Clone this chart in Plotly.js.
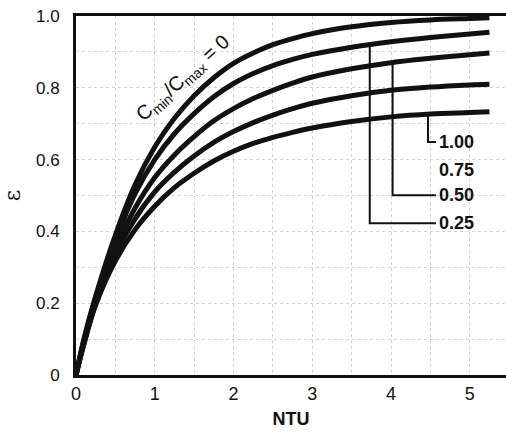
<!DOCTYPE html>
<html>
<head>
<meta charset="utf-8">
<script src="https://cdn.plot.ly/plotly-3.0.1.min.js"></script>
<style>html,body{margin:0;padding:0;background:#fff;}#chart{width:506px;height:432px;}</style>
</head>
<body>
<div id="chart"></div>
<script>
// NTU sample points
const ntu = [0, 0.1, 0.25, 0.5, 0.75, 1, 1.25, 1.5, 1.75, 2, 2.25, 2.5, 2.75, 3, 3.5, 4, 4.5, 5, 5.25];
// effectiveness, one array per Cmin/Cmax
const eps_c000 = [0, 0.10, 0.22, 0.39, 0.53, 0.635, 0.715, 0.778, 0.828, 0.868, 0.897, 0.92, 0.937, 0.951, 0.97, 0.982, 0.989, 0.993, 0.995];
const eps_c025 = [0, 0.095, 0.215, 0.375, 0.505, 0.60, 0.672, 0.728, 0.775, 0.812, 0.84, 0.862, 0.879, 0.893, 0.913, 0.928, 0.94, 0.95, 0.955];
const eps_c050 = [0, 0.09, 0.205, 0.355, 0.465, 0.55, 0.613, 0.664, 0.708, 0.742, 0.77, 0.793, 0.813, 0.83, 0.853, 0.87, 0.882, 0.892, 0.897];
const eps_c075 = [0, 0.088, 0.20, 0.335, 0.435, 0.51, 0.565, 0.61, 0.648, 0.678, 0.703, 0.724, 0.742, 0.757, 0.778, 0.793, 0.802, 0.808, 0.81];
const eps_c100 = [0, 0.085, 0.195, 0.318, 0.405, 0.47, 0.522, 0.562, 0.596, 0.623, 0.645, 0.662, 0.676, 0.688, 0.706, 0.719, 0.727, 0.731, 0.733];

const xTickVals = [0, 1, 2, 3, 4, 5];
const xTickText = ['0', '1', '2', '3', '4', '5'];
const yTickVals = [0, 0.2, 0.4, 0.6, 0.8, 1.0];
const yTickText = ['0', '0.2', '0.4', '0.6', '0.8', '1.0'];

// curve labels and leader lines
const labelText = ['1.00', '0.75', '0.50', '0.25'];
const labelY = [0.649, 0.571, 0.501, 0.423];
const labelX = 4.59;
const leaderSeries = [eps_c100, eps_c050, eps_c025];
const leaderNtu = [4.47, 4.02, 3.73];
const leaderLabel = [0, 2, 3];

function interp(xs, ys, x) {
  for (let i = 0; i < xs.length - 1; i++) {
    if (x >= xs[i] && x <= xs[i + 1]) {
      const t = (x - xs[i]) / (xs[i + 1] - xs[i]);
      return ys[i] + t * (ys[i + 1] - ys[i]);
    }
  }
  return ys[ys.length - 1];
}

const series = [eps_c000, eps_c025, eps_c050, eps_c075, eps_c100];
const traces = series.map(s => ({
  x: ntu, y: s, type: 'scatter', mode: 'lines',
  line: {color: '#111', width: 5, shape: 'spline', smoothing: 1},
  hoverinfo: 'skip', showlegend: false
}));

const shapes = [];
leaderNtu.forEach((n, i) => {
  const y0 = interp(ntu, leaderSeries[i], n);
  const yl = labelY[leaderLabel[i]];
  shapes.push({type: 'path', xref: 'x', yref: 'y',
    path: `M ${n} ${y0} L ${n} ${yl} L ${labelX - 0.02} ${yl}`,
    line: {color: '#111', width: 2}, layer: 'above'});
});

const annotations = labelText.map((t, i) => ({
  x: labelX, y: labelY[i], xref: 'x', yref: 'y', text: t, showarrow: false,
  xanchor: 'left', yanchor: 'middle',
  font: {family: 'Liberation Sans, Arial, sans-serif', size: 18, color: '#111', weight: 'bold'}
}));
annotations.push({
  x: 1.37, y: 0.825, xref: 'x', yref: 'y',
  text: 'C<sub>min</sub>/C<sub>max</sub> = 0', showarrow: false, textangle: -42,
  font: {family: 'Liberation Sans, Arial, sans-serif', size: 20, color: '#111'}
});

const gridStyle = {gridcolor: '#d2d2d2', gridwidth: 1, griddash: 'dot'};

const layout = {
  width: 506, height: 432,
  margin: {l: 76, r: 0, t: 16, b: 57},
  paper_bgcolor: '#fff', plot_bgcolor: '#fff',
  showlegend: false,
  xaxis: Object.assign({
    range: [0, 5.46], tickvals: xTickVals, ticktext: xTickText,
    showline: true, linecolor: '#111', linewidth: 3, mirror: true,
    ticks: '', showgrid: true, zeroline: false, ticklabelstandoff: 0,
    tickfont: {family: 'Liberation Sans, Arial, sans-serif', size: 18, color: '#111'},
    title: {text: 'NTU', standoff: 10, font: {family: 'Liberation Sans, Arial, sans-serif', size: 18, color: '#111', weight: 'bold'}},
    minor: Object.assign({dtick: 0.5, showgrid: true, ticks: ''}, gridStyle)
  }, gridStyle),
  yaxis: Object.assign({
    range: [0, 1.0], tickvals: yTickVals, ticktext: yTickText,
    showline: true, linecolor: '#111', linewidth: 3, mirror: false,
    ticks: '', showgrid: true, zeroline: false, ticklabelstandoff: 10,
    tickfont: {family: 'Liberation Sans, Arial, sans-serif', size: 17, color: '#111'},
    title: {text: 'ε', standoff: 12, font: {family: 'DejaVu Serif, serif', size: 22, color: '#111'}},
    minor: Object.assign({dtick: 0.1, showgrid: true, ticks: ''}, gridStyle)
  }, gridStyle),
  shapes: shapes,
  annotations: annotations
};

Plotly.newPlot('chart', traces, layout, {displayModeBar: false, staticPlot: true});
</script>
</body>
</html>
